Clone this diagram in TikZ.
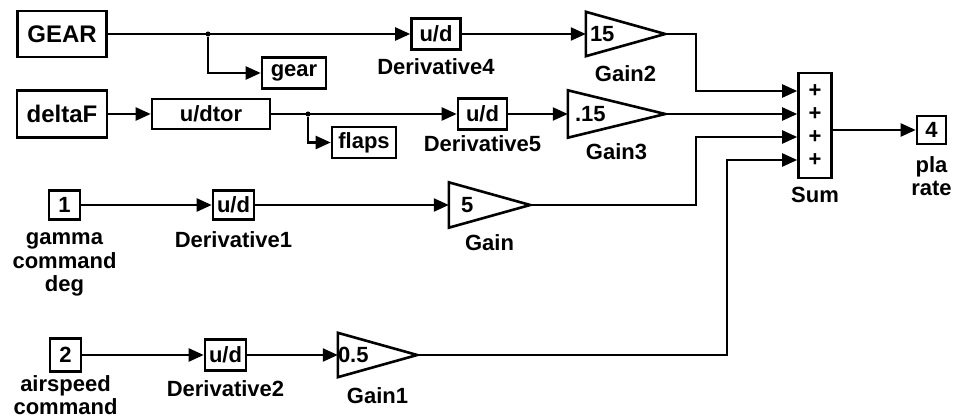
\documentclass[tikz,border=0pt]{standalone}
\usepackage{fontspec}
\setmainfont{Liberation Sans}
\usepackage{tikz}
\usetikzlibrary{arrows.meta,positioning,calc}

\tikzset{
  blk/.style 2 args={draw, line width=2.6pt, inner sep=0pt, minimum width=#1, minimum height=#2},
  gain/.style={inner ysep=0pt, align=left, minimum height=44pt},
  lbl/.style={inner sep=0pt, align=center},
  sig/.style={line width=2.3pt, -{Triangle[length=15pt,width=13pt]}},
  joint/.style={fill, circle, inner sep=0pt, minimum size=5pt},
}
\newcommand{\bigtxt}{\bfseries\fontsize{24}{26}\selectfont}

\begin{document}
\begin{tikzpicture}[x=1pt, y=-1pt, every node/.style={font=\bfseries\fontsize{22}{23.5}\selectfont}]
    \useasboundingbox (0,0) rectangle (960,419);
    % gear and flaps rows
    \node[blk={89pt}{46pt}, font=\bigtxt] (gearin) at (62,34) {GEAR};
    \node[blk={64pt}{31pt}] (gearout) at (294,73) {gear};
    \node[blk={49pt}{31pt}] (d4) at (436,34) {u/d};
    \node[gain, text width=71pt, inner xsep=4pt] (g2) at (625.5,34) {15};
    \node[blk={90pt}{47pt}, font=\bigtxt] (deltaf) at (62,114) {deltaF};
    \node[blk={118pt}{30pt}] (dtor) at (211,114) {u/dtor};
    \node[blk={64pt}{31pt}] (flaps) at (364,142.5) {flaps};
    \node[blk={49pt}{31pt}] (d5) at (482.5,114) {u/d};
    \node[gain, text width=83pt, inner xsep=7pt, minimum height=47pt] (g3) at (616.5,114) {.15};
    % command inputs
    \node[blk={31pt}{29pt}] (in1) at (64.5,205) {1};
    \node[blk={41pt}{29pt}] (d1) at (233.5,205) {u/d};
    \node[gain, text width=57pt, inner xsep=12pt, minimum height=45pt] (g5) at (489.5,205) {5};
    \node[blk={31pt}{33pt}] (in2) at (65.5,355) {2};
    \node[blk={41pt}{31pt}] (d2) at (225.5,355) {u/d};
    \node[gain, text width=79pt, inner xsep=0pt] (g1) at (377.5,355) {0.5};
    % sum and output
    \node[blk={33pt}{105pt}, align=center, font=\bfseries\fontsize{22}{23}\selectfont] (sum) at (815,125.5) {+\\+\\+\\+};
    \node[blk={29pt}{28pt}] (out4) at (931.5,130) {4};
    \foreach \g in {g2,g3,g5,g1}
        \draw[line width=2.6pt] (\g.north west) -- (\g.east) -- (\g.south west) -- cycle;
    % block names
    \node[lbl, below=8pt of d4] (d4l) {Derivative4};
    \node[lbl, below=9pt of g2] (g2l) {Gain2};
    \node[lbl, below=5pt of d5] (d5l) {Derivative5};
    \node[lbl, below=6pt of g3] (g3l) {Gain3};
    \node[lbl, below=12pt of in1] (in1l) {gamma\\command\\deg};
    \node[lbl, below=11pt of d1] (d1l) {Derivative1};
    \node[lbl, below=7pt of g5] (g5l) {Gain};
    \node[lbl, below=3pt of in2, font=\bfseries\fontsize{22}{22.5}\selectfont] (in2l) {airspeed\\command};
    \node[lbl, below=9pt of d2] (d2l) {Derivative2};
    \node[lbl, below=10pt of g1] (g1l) {Gain1};
    \node[lbl, below=8pt of sum] (suml) {Sum};
    \node[lbl, below=11pt of out4] (out4l) {pla\\rate};
    % signals
    \node[joint] (j1) at (208,34) {};
    \node[joint] (j2) at (308,114) {};
    \coordinate (s1) at ([yshift=34.5pt]sum.west);
    \coordinate (s2) at ([yshift=11.5pt]sum.west);
    \coordinate (s3) at ([yshift=-11.5pt]sum.west);
    \coordinate (s4) at ([yshift=-34.5pt]sum.west);
    \draw[sig] (gearin) -- (d4);
    \draw[sig] (j1) |- (gearout);
    \draw[sig] (d4) -- (g2);
    \draw[sig] (g2.east) -| ([xshift=-101pt]s1) -- (s1);
    \draw[sig] (deltaf) -- (dtor);
    \draw[sig] (dtor) -- (d5);
    \draw[sig] (j2) |- (flaps);
    \draw[sig] (d5) -- (g3);
    \draw[sig] (g3.east) -- (s2);
    \draw[sig] (in1) -- (d1);
    \draw[sig] (d1) -- (g5);
    \draw[sig] (g5.east) -| ([xshift=-101pt]s3) -- (s3);
    \draw[sig] (in2) -- (d2);
    \draw[sig] (d2) -- (g1);
    \draw[sig] (g1.east) -| ([xshift=-70pt]s4) -- (s4);
    \draw[sig] (sum.east |- out4) -- (out4);
\end{tikzpicture}
\end{document}
